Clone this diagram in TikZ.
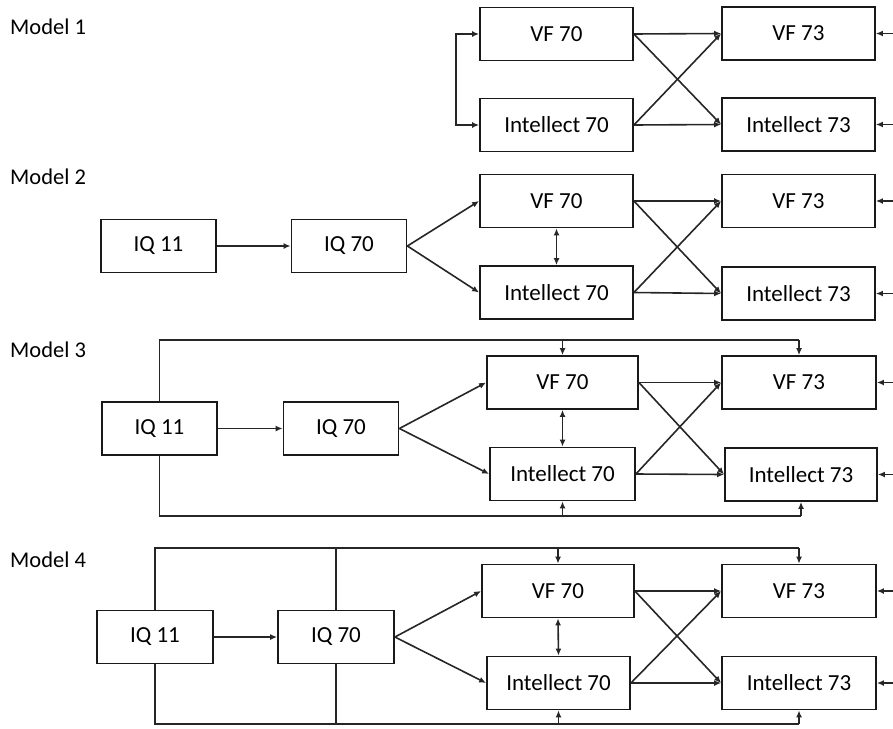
\documentclass[tikz,border=0pt]{standalone}
\usepackage{fontspec}
\setmainfont{Carlito}
\usetikzlibrary{arrows.meta,calc}
\begin{document}
\begin{tikzpicture}[x=1pt,y=-1pt,
  box/.style={draw=black!90, line width=1.8pt, minimum height=53pt, minimum width=153pt, inner sep=0pt, font=\fontsize{23}{26}\selectfont},
  iq/.style={box, minimum width=115pt},
  lbl/.style={anchor=west, inner sep=0pt, font=\fontsize{22.5}{26}\selectfont},
  conn/.style={draw=black!85, line width=1.6pt},
  arr/.style={conn, -{Latex[length=7pt,width=6pt]}},
  darr/.style={conn, {Latex[length=7pt,width=6pt]}-{Latex[length=7pt,width=6pt]}}]
\useasboundingbox (0,0) rectangle (893,728);
\coordinate (R) at (893,0);

% ---------- Model 1 ----------
\node[lbl] (m1) at (10,27) {Model 1};
\node[box] (VFa) at (556.5,34) {VF 70};
\node[box] (Ia) at (556.5,125) {Intellect 70};
\node[box] (VFTa) at (798.5,33.5) {VF 73};
\node[box] (ITa) at (798.5,124.5) {Intellect 73};
\draw[darr] (VFa.west) -- ++(-23,0) |- (Ia.west);
\draw[arr] (VFa.east) -- (VFTa.west);
\draw[arr] (VFa.east) -- (ITa.west);
\draw[arr] (Ia.east) -- (VFTa.west);
\draw[arr] (Ia.east) -- (ITa.west);
\draw[arr] (VFTa.east -| R) -- (VFTa.east);
\draw[arr] (ITa.east -| R) -- (ITa.east);

% ---------- Model 2 ----------
\node[lbl] (m2) at (10,177) {Model 2};
\node[iq] (IQa2) at (158.5,246) {IQ 11};
\node[iq] (IQb2) at (349,246) {IQ 70};
\node[box] (VFb) at (556.5,201) {VF 70};
\node[box] (Ib) at (556.5,292.5) {Intellect 70};
\node[box] (VFTb) at (798.5,201) {VF 73};
\node[box] (ITb) at (798.5,293.5) {Intellect 73};
\draw[arr] (IQa2.east) -- (IQb2.west);
\draw[arr] (IQb2.east) -- (VFb.west);
\draw[arr] (IQb2.east) -- (Ib.west);
\draw[darr] (VFb.south) -- (Ib.north);
\draw[arr] (VFb.east) -- (VFTb.west);
\draw[arr] (VFb.east) -- (ITb.west);
\draw[arr] (Ib.east) -- (VFTb.west);
\draw[arr] (Ib.east) -- (ITb.west);
\draw[arr] (VFTb.east -| R) -- (VFTb.east);
\draw[arr] (ITb.east -| R) -- (ITb.east);

% ---------- Model 3 ----------
\node[lbl] (m3) at (10,350) {Model 3};
\node[iq] (IQa3) at (159.5,428.5) {IQ 11};
\node[iq] (IQb3) at (341,428.5) {IQ 70};
\node[box, minimum width=151pt] (VFc) at (562.5,382.5) {VF 70};
\node[box, minimum width=145pt] (Ic) at (562.5,474) {Intellect 70};
\node[box, minimum width=154pt] (VFTc) at (799,382.5) {VF 73};
\node[box, minimum width=152pt] (ITc) at (801,474.5) {Intellect 73};
\coordinate (top3) at (0,340);
\coordinate (bot3) at (0,516);
\draw[conn] (IQa3.north) |- (top3 -| VFTc.north);
\draw[arr] (top3 -| VFTc.north) -- (VFTc.north);
\draw[arr] (top3 -| VFc.north) -- (VFc.north);
\draw[conn] (IQa3.south) |- (bot3 -| ITc.south);
\draw[arr] (bot3 -| ITc.south) -- (ITc.south);
\draw[arr] (bot3 -| Ic.south) -- (Ic.south);
\draw[arr] (IQa3.east) -- (IQb3.west);
\draw[arr] (IQb3.east) -- (VFc.west);
\draw[arr] (IQb3.east) -- (Ic.west);
\draw[darr] (VFc.south) -- (Ic.north);
\draw[arr] (VFc.east) -- (VFTc.west);
\draw[arr] (VFc.east) -- (ITc.west);
\draw[arr] (Ic.east) -- (VFTc.west);
\draw[arr] (Ic.east) -- (ITc.west);
\draw[arr] (VFTc.east -| R) -- (VFTc.east);
\draw[arr] (ITc.east -| R) -- (ITc.east);

% ---------- Model 4 ----------
\node[lbl] (m4) at (10,560) {Model 4};
\node[iq, minimum width=116pt] (IQa4) at (155,637) {IQ 11};
\node[iq, minimum width=116pt] (IQb4) at (336,637) {IQ 70};
\node[box, minimum width=152pt] (VFd) at (558,591) {VF 70};
\node[box, minimum width=143pt] (Id) at (558.5,683) {Intellect 70};
\node[box, minimum width=154pt] (VFTd) at (799,591) {VF 73};
\node[box, minimum width=154pt] (ITd) at (799,683) {Intellect 73};
\coordinate (top4) at (0,548);
\coordinate (bot4) at (0,724);
\draw[conn] (IQa4.north) |- (top4 -| VFTd.north);
\draw[conn] (IQb4.north) -- (top4 -| IQb4.north);
\draw[arr] (top4 -| VFTd.north) -- (VFTd.north);
\draw[arr] (top4 -| VFd.north) -- (VFd.north);
\draw[conn] (IQa4.south) |- (bot4 -| ITd.south);
\draw[conn] (IQb4.south) -- (bot4 -| IQb4.south);
\draw[arr] (bot4 -| ITd.south) -- (ITd.south);
\draw[arr] (bot4 -| Id.south) -- (Id.south);
\draw[arr] (IQa4.east) -- (IQb4.west);
\draw[arr] (IQb4.east) -- (VFd.west);
\draw[arr] (IQb4.east) -- (Id.west);
\draw[darr] (VFd.south) -- (Id.north);
\draw[arr] (VFd.east) -- (VFTd.west);
\draw[arr] (VFd.east) -- (ITd.west);
\draw[arr] (Id.east) -- (VFTd.west);
\draw[arr] (Id.east) -- (ITd.west);
\draw[arr] (VFTd.east -| R) -- (VFTd.east);
\draw[arr] (ITd.east -| R) -- (ITd.east);
\end{tikzpicture}
\end{document}
